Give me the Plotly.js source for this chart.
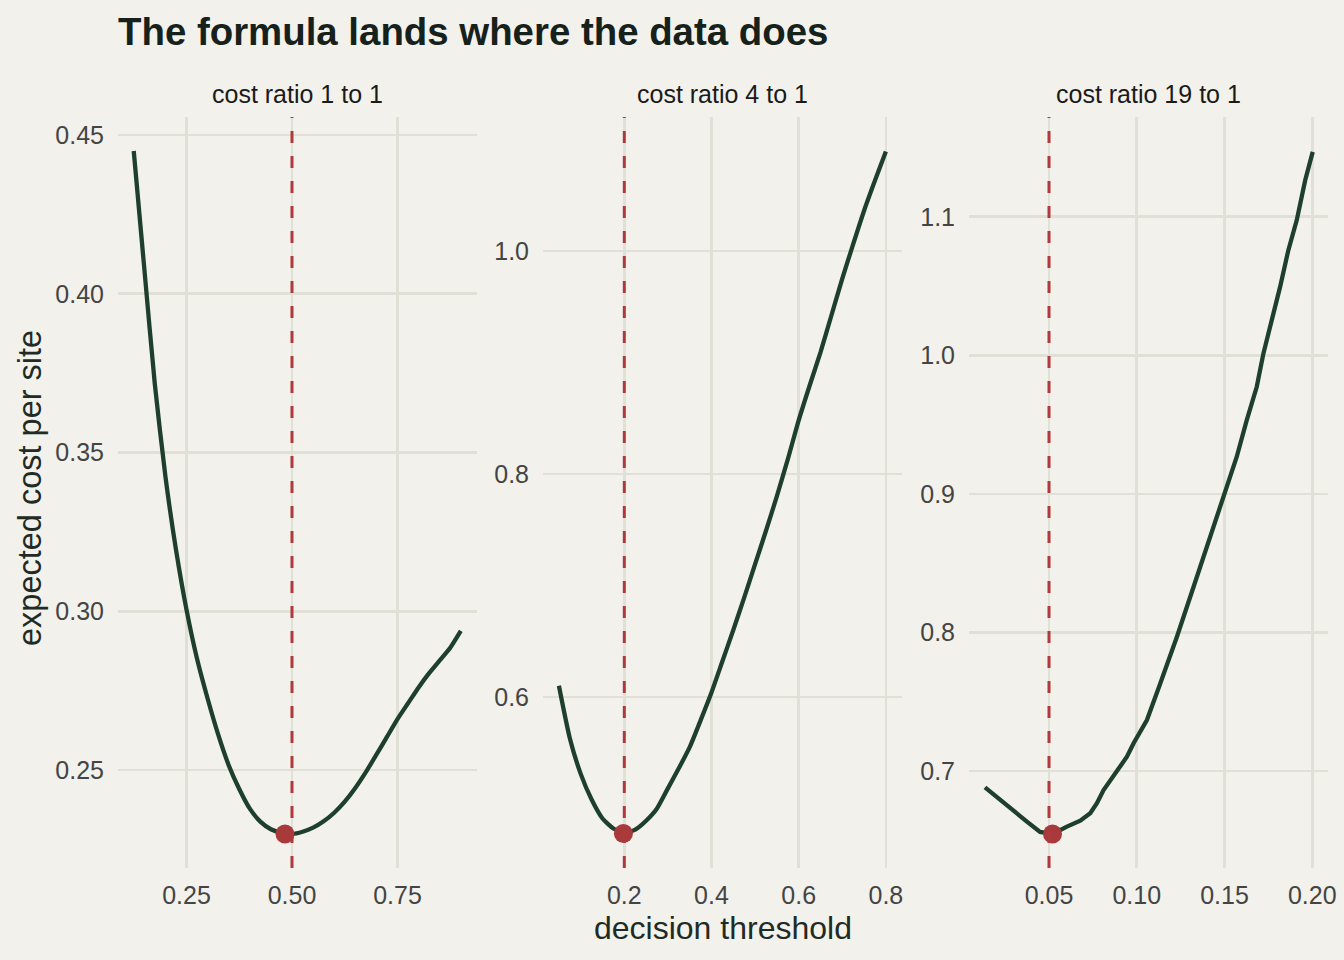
<!DOCTYPE html>
<html>
<head>
<meta charset="utf-8">
<script src="https://cdn.plot.ly/plotly-3.0.1.min.js"></script>
<style>html,body{margin:0;padding:0;background:#f2f1eb;}#chart{width:1344px;height:960px;}</style>
</head>
<body>
<div id="chart"></div>
<script>
// ---- data ----
const panelTitles = ["cost ratio 1 to 1", "cost ratio 4 to 1", "cost ratio 19 to 1"];

const p1_threshold = [0.125,0.15,0.175,0.2,0.225,0.25,0.275,0.3,0.325,0.35,0.375,0.4,0.425,0.45,0.475,0.5,0.525,0.55,0.575,0.6,0.625,0.65,0.675,0.7,0.725,0.75,0.775,0.8,0.825,0.85,0.875,0.9];
const p1_cost = [0.445,0.408,0.3715,0.3425,0.3195,0.3005,0.2850,0.2725,0.2612,0.2515,0.2440,0.2378,0.2337,0.2313,0.2302,0.2298,0.2305,0.2318,0.2338,0.2365,0.2400,0.2443,0.2493,0.2548,0.2604,0.2660,0.2710,0.2760,0.2805,0.2845,0.2885,0.2938];

const p2_threshold = [0.05,0.075,0.1,0.125,0.15,0.175,0.2,0.225,0.25,0.275,0.3,0.325,0.35,0.375,0.4,0.425,0.45,0.475,0.5,0.525,0.55,0.575,0.6,0.625,0.65,0.675,0.7,0.725,0.75,0.775,0.8];
const p2_cost = [0.610,0.563,0.531,0.508,0.491,0.482,0.478,0.481,0.489,0.500,0.518,0.536,0.555,0.579,0.604,0.632,0.660,0.689,0.719,0.749,0.780,0.813,0.848,0.879,0.909,0.942,0.975,1.006,1.036,1.063,1.089];

const p3_threshold = [0.0135,0.0221,0.0297,0.0374,0.0449,0.0521,0.0602,0.0678,0.0735,0.0773,0.0811,0.0868,0.0944,0.0982,0.1058,0.1134,0.1229,0.1324,0.1400,0.1448,0.1522,0.1570,0.1627,0.1684,0.1722,0.1770,0.1817,0.1864,0.1912,0.1960,0.2003];
const p3_cost = [0.6882,0.6791,0.6707,0.6635,0.6560,0.6546,0.6599,0.6642,0.6695,0.6767,0.6863,0.6971,0.7103,0.7200,0.7368,0.7632,0.7969,0.8330,0.8619,0.8811,0.9075,0.9268,0.9532,0.9773,1.0014,1.0254,1.0494,1.0759,1.0976,1.1263,1.1468];

const optimalThreshold = [0.5, 0.2, 0.05];      // formula (dashed lines)
const minThreshold = [0.4834, 0.198, 0.052];    // empirical minimum (dots)
const minCost = [0.2298, 0.4775, 0.6546];

const xTicks = [[0.25,0.5,0.75],[0.2,0.4,0.6,0.8],[0.05,0.10,0.15,0.20]];
const xTickText = [["0.25","0.50","0.75"],["0.2","0.4","0.6","0.8"],["0.05","0.10","0.15","0.20"]];
const yTicks = [[0.25,0.30,0.35,0.40,0.45],[0.6,0.8,1.0],[0.7,0.8,0.9,1.0,1.1]];
const yTickText = [["0.25","0.30","0.35","0.40","0.45"],["0.6","0.8","1.0"],["0.7","0.8","0.9","1.0","1.1"]];

// ---- styling ----
const W = 1344, H = 960;
const FONT = "Liberation Sans, Arial, Helvetica, sans-serif";
const BG = "#f2f1eb", GRID = "#e1e0d6", LINE = "#1e3f2c", RED = "#a83a3b", DASH = "#b0393c";
const px = [[118,477],[543,902],[969,1328]];
const yTop = 117, yBot = 868;
const xRanges = [[0.0877,0.9384],[0.0135,0.837],[0.0044,0.209]];
const yRanges = [[0.2191,0.4557],[0.4466,1.120],[0.630,1.172]];
const lineShapes = ["spline", "spline", "linear"];

const thresholds = [p1_threshold, p2_threshold, p3_threshold];
const costs = [p1_cost, p2_cost, p3_cost];

const traces = [];
const layout = {
  width: W, height: H,
  paper_bgcolor: BG, plot_bgcolor: BG,
  margin: {l:0, r:0, t:0, b:0},
  showlegend: false,
  font: {family: FONT},
  title: {text: "<b>The formula lands where the data does</b>", x: 118/W, xanchor: "left", xref: "paper",
          y: 1 - 32/H, yanchor: "middle", yref: "container",
          font: {family: FONT, size: 38.4, color: "#17211b"}},
  shapes: [], annotations: []
};

for (let i = 0; i < 3; i++) {
  const s = i === 0 ? "" : String(i + 1);
  const xa = "x" + s, ya = "y" + s;
  // dashed formula line
  layout.shapes.push({type: "line", xref: xa, yref: ya + " domain", x0: optimalThreshold[i], x1: optimalThreshold[i],
    y0: 0, y1: 1, line: {color: DASH, width: 3, dash: "12px,13px"}, layer: "above"});
  traces.push({x: thresholds[i], y: costs[i], xaxis: xa, yaxis: ya, type: "scatter", mode: "lines",
    line: {color: LINE, width: 4.3, shape: lineShapes[i], smoothing: 0.6}, hoverinfo: "skip"});
  traces.push({x: [minThreshold[i]], y: [minCost[i]], xaxis: xa, yaxis: ya, type: "scatter", mode: "markers",
    marker: {color: RED, size: 19}, hoverinfo: "skip"});
  layout["xaxis" + s] = {
    domain: [px[i][0]/W, px[i][1]/W], range: xRanges[i], anchor: ya,
    tickvals: xTicks[i], ticktext: xTickText[i], showgrid: true, gridcolor: GRID, gridwidth: 2.6,
    zeroline: false, showline: false, ticks: "", automargin: false,
    tickfont: {family: FONT, size: 25, color: "#444444"}, ticklabelstandoff: 10
  };
  layout["yaxis" + s] = {
    domain: [1 - yBot/H, 1 - yTop/H], range: yRanges[i], anchor: xa,
    tickvals: yTicks[i], ticktext: yTickText[i], showgrid: true, gridcolor: GRID, gridwidth: 2.6,
    zeroline: false, showline: false, ticks: "", automargin: false,
    tickfont: {family: FONT, size: 25, color: "#444444"}, ticklabelstandoff: 13
  };
  layout.annotations.push({text: panelTitles[i], xref: xa + " domain", yref: "paper", x: 0.5, y: 1 - 94/H,
    xanchor: "center", yanchor: "middle", showarrow: false, font: {family: FONT, size: 25, color: "#1a1a1a"}});
}
layout.annotations.push({text: "decision threshold", xref: "paper", yref: "paper", x: 723/W, y: 1 - 928/H,
  xanchor: "center", yanchor: "middle", showarrow: false, font: {family: FONT, size: 32, color: "#1f2b24"}});
layout.annotations.push({text: "expected cost per site", xref: "paper", yref: "paper", x: 30/W, y: 1 - 488/H,
  xanchor: "center", yanchor: "middle", textangle: -90, showarrow: false, font: {family: FONT, size: 32.5, color: "#1f2b24"}});

Plotly.newPlot("chart", traces, layout, {staticPlot: true, displayModeBar: false});
</script>
</body>
</html>
